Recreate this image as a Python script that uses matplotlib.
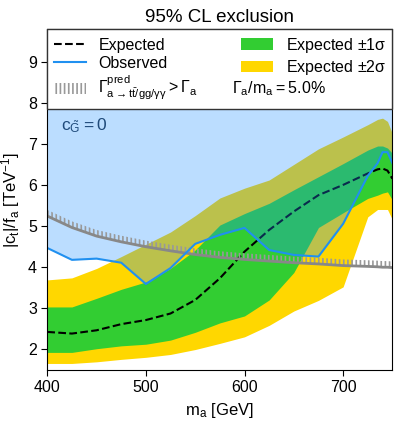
import matplotlib
matplotlib.use("Agg")
import matplotlib.pyplot as plt
from matplotlib.lines import Line2D
from matplotlib.patches import Patch

plt.rcParams['font.family'] = ['Liberation Sans', 'DejaVu Sans']
plt.rcParams['mathtext.default'] = 'regular'
plt.rcParams['hatch.linewidth'] = 1.2

# limits vs. pseudoscalar mass
mass = [400, 425, 450, 475, 500, 525, 550, 575, 600, 625, 650, 675, 700, 725, 735, 740, 745, 750]
expected = [2.41, 2.37, 2.45, 2.60, 2.70, 2.86, 3.19, 3.72, 4.37, 4.90, 5.35, 5.75, 6.00, 6.28, 6.38, 6.40, 6.35, 6.15]
observed = [4.46, 4.17, 4.20, 4.10, 3.58, 3.97, 4.56, 4.78, 4.95, 4.41, 4.29, 4.25, 5.05, 6.22, 6.53, 6.80, 6.80, 6.53]
sig1_lo = [1.91, 1.91, 2.00, 2.07, 2.11, 2.21, 2.40, 2.63, 2.80, 3.19, 3.86, 4.96, 5.32, 5.67, 5.75, 5.80, 5.83, 5.63]
sig1_hi = [3.02, 3.02, 3.23, 3.45, 3.63, 3.96, 4.41, 5.02, 5.30, 5.55, 5.88, 6.20, 6.52, 6.85, 6.95, 6.95, 6.90, 6.77]
sig2_lo = [1.64, 1.64, 1.68, 1.74, 1.79, 1.86, 1.98, 2.13, 2.29, 2.57, 2.92, 3.18, 3.51, 5.22, 5.40, 5.40, 5.40, 5.15]
sig2_hi = [3.68, 3.73, 3.96, 4.25, 4.55, 4.85, 5.25, 5.68, 5.92, 6.12, 6.50, 6.88, 7.17, 7.47, 7.60, 7.63, 7.55, 7.25]
# predicted width exceeds Gamma_a above this curve
width_curve = [5.24, 4.96, 4.75, 4.61, 4.49, 4.39, 4.30, 4.23, 4.18, 4.14, 4.10, 4.07, 4.03, 4.01, 4.00, 3.99, 3.99, 3.98]
width_top = [v + 0.15 for v in width_curve]

fig = plt.figure(figsize=(3.99, 4.22), dpi=100)
ax = fig.add_axes([0.1185, 0.1232, 0.865, 0.8074])

ax.fill_between(mass, sig2_lo, sig2_hi, color='gold', lw=0, zorder=1)
ax.fill_between(mass, sig1_lo, sig1_hi, color='limegreen', lw=0, zorder=1.1)
ax.plot(mass, expected, color='black', ls='--', lw=1.5, zorder=1.2)
ax.fill_between(mass, observed, 10, color='dodgerblue', alpha=0.3, lw=0, zorder=1.3)
ax.fill_between(mass, width_curve, width_top, facecolor='none', edgecolor='#999999',
                hatch='||||', lw=0, zorder=1.4)
ax.plot(mass, width_curve, color='#888888', lw=2, zorder=1.5)
ax.plot(mass, observed, color='#2090f0', lw=1.5, zorder=1.6)

ax.set_xlim(400, 750)
ax.set_ylim(1.48, 9.8)
ax.set_xticks([400, 500, 600, 700])
ax.set_yticks([2, 3, 4, 5, 6, 7, 8, 9])
ax.tick_params(labelsize=11.5, length=4)
ax.set_xlabel('$m_a$ [GeV]', fontsize=12)
ax.set_ylabel('$|c_t|/f_a$ [TeV$^{-1}$]', fontsize=12)
ax.set_title('95% CL exclusion', fontsize=13.5, pad=5)

handles = [
    Line2D([], [], color='black', ls='--', lw=1.5),
    Line2D([], [], color='#2090f0', lw=1.5),
    Patch(facecolor='none', edgecolor='#999999', hatch='||||', lw=0),
    Patch(facecolor='limegreen', lw=0),
    Patch(facecolor='gold', lw=0),
]
labels = [
    'Expected',
    'Observed',
    r'$\Gamma^{pred}_{a\rightarrow t\bar{t}/gg/\gamma\gamma} > \Gamma_a$',
    r'Expected $\pm1\sigma$',
    r'Expected $\pm2\sigma$',
]
leg = ax.legend(handles, labels, loc='upper left', bbox_to_anchor=(0, 0, 1, 1),
                mode='expand', ncol=2, borderaxespad=0, fontsize=11.5,
                fancybox=False, framealpha=1, edgecolor='#333333',
                handlelength=2.0, labelspacing=0.2)
leg.set_zorder(5)

ax.text(0.536, 0.826, r'$\Gamma_a/m_a = 5.0\%$', transform=ax.transAxes,
        fontsize=11.5, va='center', zorder=6)
ax.text(0.04, 0.716, r'$c_{\tilde{G}} = 0$', transform=ax.transAxes,
        fontsize=12.5, va='center', color='#1f4a7a', zorder=6)

fig.savefig('out.png', dpi=100)
